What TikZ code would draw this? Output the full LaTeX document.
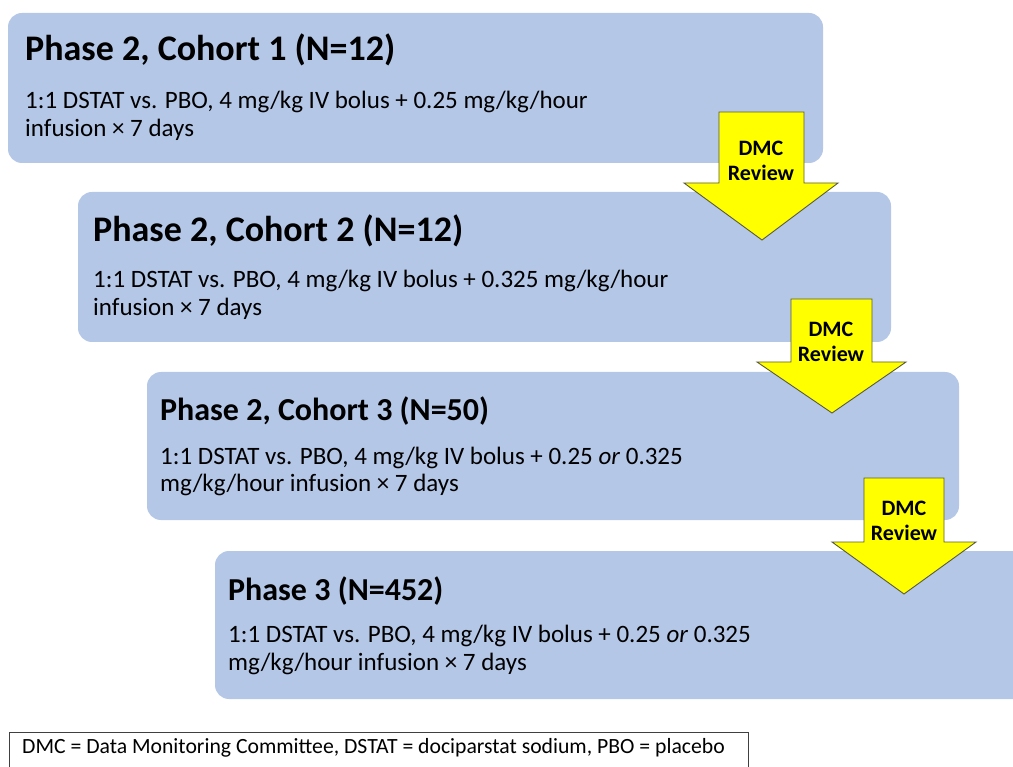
\documentclass[tikz,border=0pt]{standalone}
\usepackage{fontspec}
\setmainfont{Carlito}
\definecolor{boxblue}{HTML}{B4C7E7}
\definecolor{arrowyellow}{HTML}{FFFF00}
\definecolor{arrowedge}{HTML}{5A5A3A}
\begin{document}
\begin{tikzpicture}[x=1pt,y=-1pt,
  phase/.style={fill=boxblue, rounded corners=14pt, draw=none},
  titletxt/.style={anchor=base west, inner sep=0pt, font=\bfseries\fontsize{#1}{#1}\selectfont},
  titletxt/.default=36,
  bodytxt/.style={anchor=base west, inner sep=0pt, align=left, font=\fontsize{25}{28}\selectfont},
  dmc/.style={fill=arrowyellow, draw=arrowedge, line width=0.9pt, line join=miter},
  dmclabel/.style={inner sep=0pt, align=center, font=\bfseries\fontsize{#1}{25}\selectfont},
  dmclabel/.default=22,
  legendbox/.style={draw=black!75, line width=0.9pt, fill=white}]
\useasboundingbox (0,0) rectangle (1013,767);
\clip (0,0) rectangle (1013,767);

% phase boxes
\path[phase] (8,13) rectangle (823,163);
\path[phase] (78,192) rectangle (891,342);
\path[phase] (147,372) rectangle (959,520);
\path[phase] (215,551) rectangle (1040,699);
\coordinate (b1) at (8,13);
\coordinate (b2) at (78,192);
\coordinate (b3) at (147,372);
\coordinate (b4) at (215,551);

% texts (body nodes anchored at the baseline of their last line)
\node[titletxt] (t1) at (25,61) {Phase 2, Cohort 1 (N=12)};
\node[bodytxt] (d1) at (25,137) {1:1 DSTAT vs. PBO, 4 mg/kg IV bolus + 0.25 mg/kg/hour\\infusion × 7 days};
\node[titletxt] (t2) at (93,242) {Phase 2, Cohort 2 (N=12)};
\node[bodytxt] (d2) at (93,316) {1:1 DSTAT vs. PBO, 4 mg/kg IV bolus + 0.325 mg/kg/hour\\infusion × 7 days};
\node[titletxt=32] (t3) at (160,421) {Phase 2, Cohort 3 (N=50)};
\node[bodytxt] (d3) at (160,492) {1:1 DSTAT vs. PBO, 4 mg/kg IV bolus + 0.25 \textit{or} 0.325\\mg/kg/hour infusion × 7 days};
\node[titletxt=32] (t4) at (228,600) {Phase 3 (N=452)};
\node[bodytxt] (d4) at (228,670) {1:1 DSTAT vs. PBO, 4 mg/kg IV bolus + 0.25 \textit{or} 0.325\\mg/kg/hour infusion × 7 days};

% DMC review arrows
\path[dmc] (719,112) -- (804,112) -- (804,183) -- (838,183) -- (762,240) -- (684,183) -- (719,183) -- cycle;
\node[dmclabel] (a1) at (761,161) {DMC\\Review};
\path[dmc] (791,299) -- (872,299) -- (872,362) -- (906,362) -- (832,413) -- (757,362) -- (791,362) -- cycle;
\node[dmclabel] (a2) at (831,342) {DMC\\Review};
\path[dmc] (864,478) -- (944,478) -- (944,542) -- (976,542) -- (904,594) -- (832,542) -- (864,542) -- cycle;
\node[dmclabel] (a3) at (904,521) {DMC\\Review};

% legend
\path[legendbox] (9,732) rectangle (748,780);
\node[anchor=base west, inner sep=0pt, font=\fontsize{21.7}{24}\selectfont] (leg) at (22,753) {DMC = Data Monitoring Committee, DSTAT = dociparstat sodium, PBO = placebo};
\end{tikzpicture}
\end{document}
